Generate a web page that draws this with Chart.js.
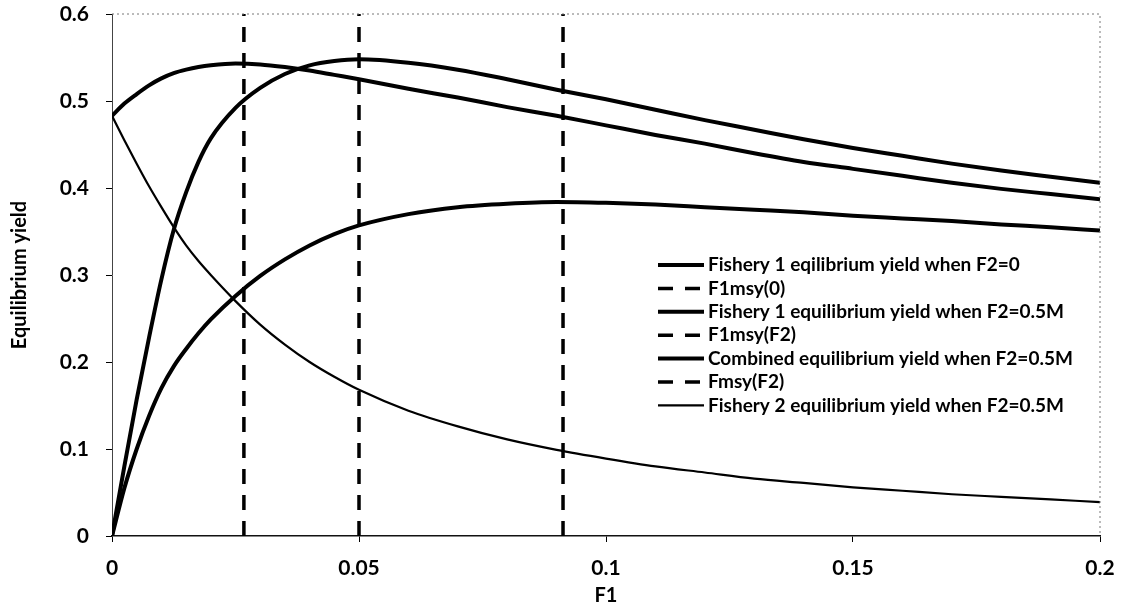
<!DOCTYPE html>
<html>
<head>
<meta charset="utf-8">
<script src="https://cdn.jsdelivr.net/npm/chart.js@4.4.1/dist/chart.umd.min.js"></script>
<style>
  body { margin: 0; background: #fff; }
</style>
</head>
<body>
<canvas id="yieldChart" width="1124" height="614"></canvas>
<script>
// F1 values along the x axis
const fValues = [0, 0.0025, 0.005, 0.0075, 0.01, 0.0125, 0.015, 0.0175, 0.02, 0.025,
    0.03, 0.035, 0.04, 0.045, 0.05, 0.06, 0.07, 0.08, 0.09, 0.1,
    0.11, 0.12, 0.13, 0.14, 0.15, 0.16, 0.17, 0.18, 0.19, 0.2];

const fishery1F2zero = [0, 0.08, 0.157, 0.228, 0.295, 0.352, 0.395, 0.43, 0.457, 0.492,
    0.515, 0.531, 0.541, 0.546, 0.548, 0.544, 0.536, 0.525, 0.513, 0.502,
    0.49, 0.478, 0.467, 0.456, 0.446, 0.437, 0.428, 0.42, 0.413, 0.406];

const fishery1F2half = [0, 0.055, 0.1, 0.138, 0.17, 0.195, 0.215, 0.233, 0.249, 0.276,
    0.299, 0.318, 0.334, 0.347, 0.357, 0.37, 0.378, 0.382, 0.384, 0.383,
    0.381, 0.378, 0.375, 0.372, 0.368, 0.365, 0.362, 0.358, 0.355, 0.351];

const combinedF2half = [0.483, 0.497, 0.508, 0.518, 0.526, 0.532, 0.536, 0.539, 0.541, 0.543,
    0.542, 0.539, 0.535, 0.53, 0.525, 0.514, 0.504, 0.493, 0.483, 0.472,
    0.461, 0.451, 0.44, 0.43, 0.422, 0.414, 0.406, 0.399, 0.393, 0.387];

const fishery2F2half = [0.483, 0.455, 0.428, 0.402, 0.378, 0.355, 0.334, 0.316, 0.3, 0.27,
    0.243, 0.22, 0.2, 0.183, 0.168, 0.144, 0.126, 0.111, 0.099, 0.089,
    0.08, 0.073, 0.066, 0.061, 0.056, 0.052, 0.048, 0.045, 0.042, 0.039];

// reference F values (vertical dashed lines)
const f1msy0 = 0.05;
const f1msyF2 = 0.0913;
const fmsyF2 = 0.0267;
const yTop = 0.6;

const FONT = 'Lato, "Open Sans", sans-serif';

function toPoints(ys) {
    return fValues.map(function (f, i) { return { x: f, y: ys[i] }; });
}
function vline(f) {
    return [{ x: f, y: 0 }, { x: f, y: yTop }];
}

const curve = { fill: false, pointRadius: 0, borderColor: '#000', cubicInterpolationMode: 'monotone' };
const dashed = { fill: false, pointRadius: 0, borderColor: '#000', borderWidth: 3.5, borderDash: [15, 11] };

const datasets = [
    Object.assign({ label: 'Fishery 1 eqilibrium yield when F2=0', data: toPoints(fishery1F2zero), borderWidth: 4 }, curve),
    Object.assign({ label: 'F1msy(0)', data: vline(f1msy0) }, dashed),
    Object.assign({ label: 'Fishery 1 equilibrium yield when F2=0.5M', data: toPoints(fishery1F2half), borderWidth: 4 }, curve),
    Object.assign({ label: 'F1msy(F2)', data: vline(f1msyF2) }, dashed),
    Object.assign({ label: 'Combined equilibrium yield when F2=0.5M', data: toPoints(combinedF2half), borderWidth: 4 }, curve),
    Object.assign({ label: 'Fmsy(F2)', data: vline(fmsyF2) }, dashed),
    Object.assign({ label: 'Fishery 2 equilibrium yield when F2=0.5M', data: toPoints(fishery2F2half), borderWidth: 2.2 }, curve)
];

// dotted frame on top/right plus the in-plot legend
const framePlugin = {
    id: 'frameAndLegend',
    afterDraw: function (chart) {
        const ctx = chart.ctx;
        const a = chart.chartArea;
        ctx.save();
        ctx.strokeStyle = '#777';
        ctx.lineWidth = 1;
        ctx.setLineDash([2, 3]);
        ctx.beginPath();
        ctx.moveTo(a.left, a.top);
        ctx.lineTo(a.right, a.top);
        ctx.lineTo(a.right, a.bottom);
        ctx.stroke();

        const x0 = a.left + 546, x1 = a.left + 592, tx = a.left + 596;
        let y = a.top + 251;
        ctx.font = 'bold 19px ' + FONT;
        ctx.textBaseline = 'middle';
        ctx.fillStyle = '#000';
        chart.data.datasets.forEach(function (ds) {
            ctx.setLineDash(ds.borderDash ? [15, 12] : []);
            ctx.lineWidth = ds.borderDash ? 3.5 : ds.borderWidth;
            ctx.strokeStyle = '#000';
            ctx.beginPath();
            ctx.moveTo(x0, y);
            ctx.lineTo(x1, y);
            ctx.stroke();
            ctx.fillText(ds.label, tx, y);
            y += 23.4;
        });
        ctx.restore();
    }
};

new Chart(document.getElementById('yieldChart').getContext('2d'), {
    type: 'line',
    data: { datasets: datasets },
    options: {
        responsive: false,
        animation: false,
        layout: { padding: { top: 0, right: 24, left: 0, bottom: 0 } },
        plugins: {
            legend: { display: false },
            tooltip: { enabled: false }
        },
        scales: {
            x: {
                type: 'linear',
                min: 0,
                max: 0.2,
                afterFit: function (scale) {
                    scale.height = 78;
                    scale.paddingLeft = 0;
                    scale.paddingRight = 0;
                },
                ticks: {
                    stepSize: 0.05,
                    padding: 14,
                    color: '#000',
                    font: { family: FONT, weight: 'bold', size: 21 },
                    callback: function (v) { return String(+v.toFixed(2)); }
                },
                grid: { drawOnChartArea: false, tickLength: 6, color: '#000' },
                border: { color: '#111', width: 1.5 },
                title: {
                    display: true,
                    text: 'F1',
                    color: '#000',
                    font: { family: FONT, weight: 'bold', size: 20 },
                    padding: { top: 0, bottom: 6 }
                }
            },
            y: {
                min: 0,
                max: yTop,
                afterFit: function (scale) {
                    scale.width = 112;
                    scale.paddingTop = 14;
                    scale.paddingBottom = 0;
                },
                ticks: {
                    stepSize: 0.1,
                    padding: 17,
                    color: '#000',
                    font: { family: FONT, weight: 'bold', size: 21 },
                    callback: function (v) { return String(+v.toFixed(1)); }
                },
                grid: { drawOnChartArea: false, tickLength: 6, color: '#000' },
                border: { color: '#444', width: 1, dash: [3, 2] },
                title: {
                    display: true,
                    text: 'Equilibrium yield',
                    color: '#000',
                    font: { family: FONT, weight: 'bold', size: 20 },
                    padding: { top: 8, bottom: 0 }
                }
            }
        }
    },
    plugins: [framePlugin]
});
</script>
</body>
</html>
